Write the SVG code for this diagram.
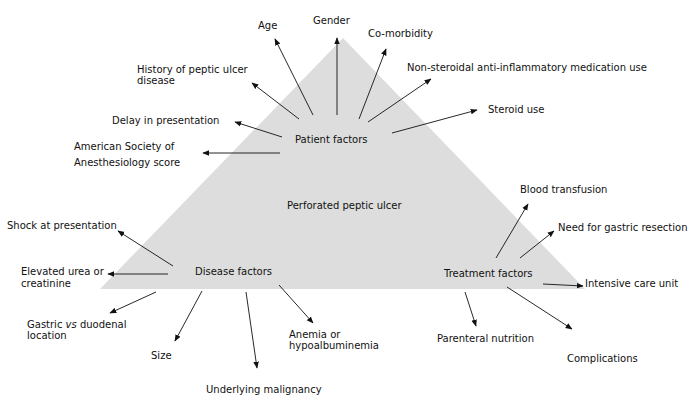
<svg xmlns="http://www.w3.org/2000/svg" width="696" height="408" viewBox="0 0 696 408">
<style>
text{font-family:"DejaVu Sans",Verdana,sans-serif;font-size:10px;fill:#111}
.c line{stroke:#111;stroke-width:0.9;marker-end:url(#ah)}
</style>
<defs>
<marker id="ah" viewBox="0 0 10 10" refX="9" refY="5" markerWidth="7" markerHeight="7" markerUnits="userSpaceOnUse" orient="auto">
<path d="M0,1 L10,5 L0,9 Z" fill="#111"/>
</marker>
</defs>
<rect width="696" height="408" fill="#fff"/>
<g id="triangle"><polygon points="343,38 100,289 585,289" fill="#dcdddc"/>
<text x="287" y="209">Perforated peptic ulcer</text></g>
<g id="patient"><text x="295" y="143">Patient factors</text></g>
<g id="disease"><text x="195" y="275">Disease factors</text></g>
<g id="treatment"><text x="444" y="277">Treatment factors</text></g>
<g id="n-age"><text x="258" y="29">Age</text></g>
<g id="n-gender"><text x="313" y="24">Gender</text></g>
<g id="n-comorb"><text x="368" y="37">Co-morbidity</text></g>
<g id="n-nsaid"><text x="407" y="71">Non-steroidal anti-inflammatory medication use</text></g>
<g id="n-steroid"><text x="488" y="113">Steroid use</text></g>
<g id="n-history"><text x="137" y="73">History of peptic ulcer</text><text x="137" y="84">disease</text></g>
<g id="n-delay"><text x="112" y="124">Delay in presentation</text></g>
<g id="n-asa"><text x="74" y="150">American Society of</text><text x="74" y="166">Anesthesiology score</text></g>
<g id="n-shock"><text x="7" y="229">Shock at presentation</text></g>
<g id="n-urea"><text x="21" y="275">Elevated urea or</text><text x="21" y="287">creatinine</text></g>
<g id="n-gastric"><text x="27" y="328">Gastric <tspan font-style="italic">vs</tspan> duodenal</text><text x="27" y="339">location</text></g>
<g id="n-size"><text x="151" y="359">Size</text></g>
<g id="n-malig"><text x="206" y="393">Underlying malignancy</text></g>
<g id="n-anemia"><text x="289" y="338">Anemia or</text><text x="289" y="349">hypoalbuminemia</text></g>
<g id="n-blood"><text x="520" y="193">Blood transfusion</text></g>
<g id="n-resect"><text x="558" y="231">Need for gastric resection</text></g>
<g id="n-icu"><text x="585" y="287">Intensive care unit</text></g>
<g id="n-pn"><text x="437" y="342">Parenteral nutrition</text></g>
<g id="n-compl"><text x="567" y="362">Complications</text></g>
<g id="connectors" class="c">
<line x1="313" y1="115" x2="275" y2="39"/>
<line x1="337" y1="115" x2="337" y2="38"/>
<line x1="299" y1="119" x2="252" y2="83"/>
<line x1="282" y1="137" x2="235" y2="122"/>
<line x1="280" y1="153" x2="203" y2="153"/>
<line x1="359" y1="119" x2="386" y2="49"/>
<line x1="368" y1="122" x2="431" y2="79"/>
<line x1="392" y1="133" x2="477" y2="110"/>
<line x1="173" y1="266" x2="118" y2="231"/>
<line x1="168" y1="274" x2="108" y2="274"/>
<line x1="156" y1="292" x2="110" y2="313"/>
<line x1="202" y1="291" x2="175" y2="341"/>
<line x1="246" y1="292" x2="257" y2="368"/>
<line x1="279" y1="285" x2="313" y2="323"/>
<line x1="496" y1="258" x2="528" y2="204"/>
<line x1="520" y1="258" x2="554" y2="231"/>
<line x1="543" y1="284" x2="583" y2="286"/>
<line x1="465" y1="292" x2="476" y2="326"/>
<line x1="507" y1="287" x2="572" y2="329"/>
</g>
</svg>
